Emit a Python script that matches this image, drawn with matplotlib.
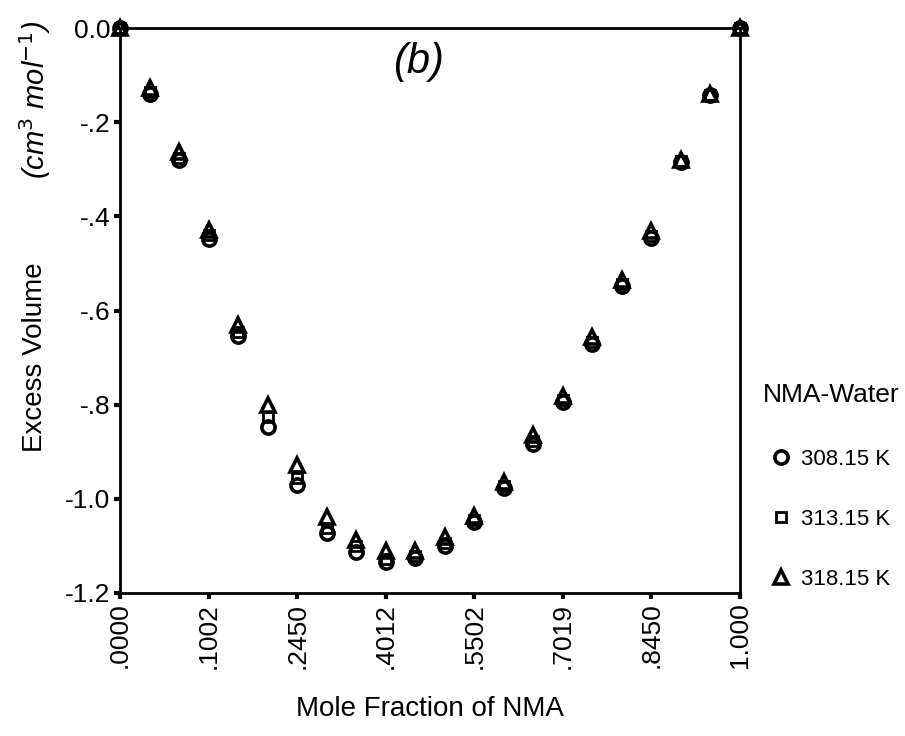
#excess volume vs mole fraction, NMA-water (b)

import matplotlib.pyplot as plt
import numpy as np

plt.rcParams['font.family'] = ['Liberation Sans', 'DejaVu Sans']

# 22 compositions plotted as categories, every third one labelled
tick_labels = [".0000", ".1002", ".2450", ".4012", ".5502", ".7019", ".8450", "1.000"]
v_308 = [0, -0.140, -0.280, -0.448, -0.655, -0.847, -0.971, -1.072, -1.113, -1.134, -1.126,
         -1.100, -1.050, -0.977, -0.883, -0.795, -0.671, -0.548, -0.445, -0.285, -0.143, 0]
v_313 = [0, -0.136, -0.276, -0.440, -0.645, -0.826, -0.956, -1.062, -1.100, -1.128, -1.121,
         -1.094, -1.045, -0.972, -0.878, -0.791, -0.667, -0.544, -0.441, -0.283, -0.142, 0]
v_318 = [0, -0.127, -0.263, -0.428, -0.630, -0.800, -0.928, -1.038, -1.088, -1.110, -1.110,
         -1.082, -1.036, -0.965, -0.864, -0.782, -0.657, -0.535, -0.432, -0.280, -0.140, 0]
y_ticks = [0.0, -0.2, -0.4, -0.6, -0.8, -1.0, -1.2]
y_tick_labels = ["0.0", "-.2", "-.4", "-.6", "-.8", "-1.0", "-1.2"]

x = np.arange(len(v_308))

fig = plt.figure(figsize=(9.05, 7.36), dpi=100)
ax = fig.add_axes([120/905, 1-593/736, 620/905, 565/736])

ax.plot(x, v_308, 'o', ms=9.5, mfc='none', mec='black', mew=2.6, clip_on=False, label='308.15 K')
ax.plot(x, v_313, 's', ms=6.5, mfc='none', mec='black', mew=2.0, clip_on=False, label='313.15 K')
ax.plot(x, v_318, '^', ms=9.5, mfc='none', mec='black', mew=2.6, clip_on=False, label='318.15 K')

ax.set_xlim(0, 21)
ax.set_ylim(-1.2, 0)
ax.set_xticks(x[::3])
ax.set_xticklabels(tick_labels, rotation=90, fontsize=19)
ax.set_yticks(y_ticks)
ax.set_yticklabels(y_tick_labels, fontsize=19)
ax.tick_params(direction='out', length=4, width=3, pad=3)
for s in ax.spines.values():
    s.set_linewidth(2)

ax.set_xlabel("Mole Fraction of NMA", fontsize=20, labelpad=20)
fig.text(35/905, 1-357/736, "Excess Volume", rotation=90, fontsize=20, ha='center', va='center')
fig.text(35/905, 1-100/736, "(cm$^3$ mol$^{-1}$)", rotation=90, fontsize=21, style='italic',
         ha='center', va='center')
ax.text(418/905, 1-62/736, "(b)", transform=fig.transFigure, fontsize=30, style='italic',
        ha='center', va='center')

leg = ax.legend(title="NMA-Water", loc='upper left', bbox_to_anchor=(752/905, 1-372/736),
                bbox_transform=fig.transFigure, frameon=False, fontsize=16, title_fontsize=19,
                labelspacing=1.75, handlelength=0.8, handletextpad=0.5, borderpad=0)
leg._legend_box.sep = 30

plt.savefig("out.png", dpi=100)
